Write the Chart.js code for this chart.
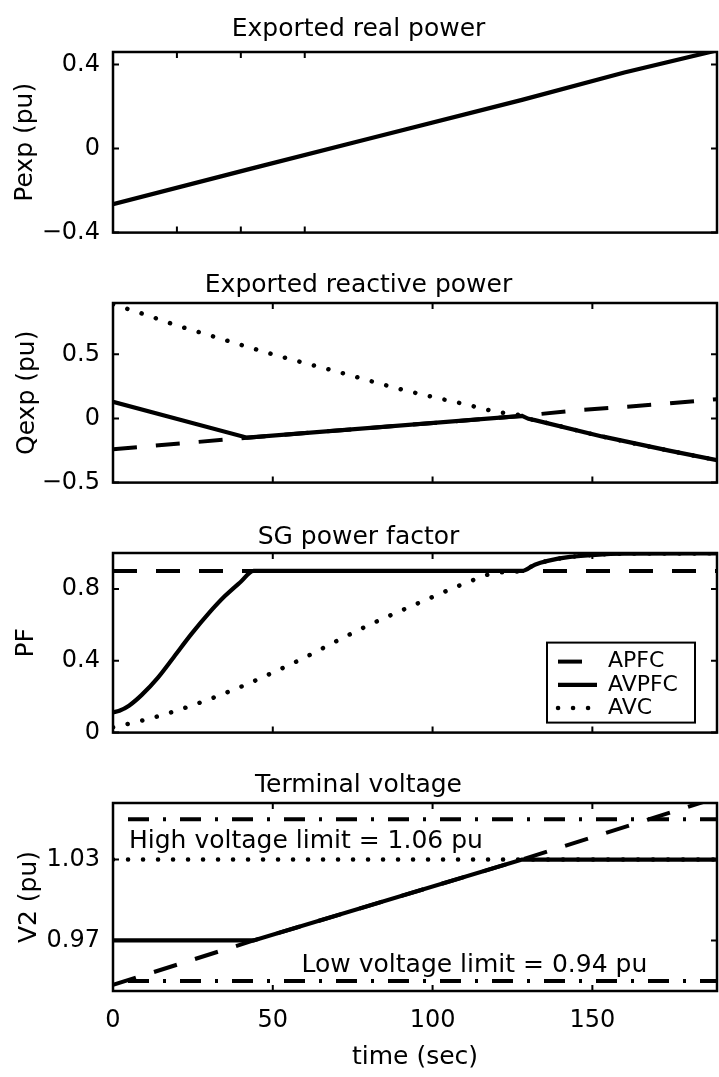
<!DOCTYPE html>
<html>
<head>
<meta charset="utf-8">
<title>Controller comparison</title>
<script src="https://cdn.jsdelivr.net/npm/chart.js@4.4.1/dist/chart.umd.min.js"></script>
<style>
  html, body { margin: 0; padding: 0; background: #fff; }
  body { width: 719px; height: 1077px; position: relative; overflow: hidden; }
  .panel { position: absolute; left: 0; width: 719px; }
</style>
</head>
<body>
<div class="panel" style="top:0;height:260px"><canvas id="pexpChart"></canvas></div>
<div class="panel" style="top:260px;height:250px"><canvas id="qexpChart"></canvas></div>
<div class="panel" style="top:510px;height:250px"><canvas id="pfChart"></canvas></div>
<div class="panel" style="top:760px;height:317px"><canvas id="voltChart"></canvas></div>
<script>
// series names / ticks
const seriesNames = ['APFC', 'AVPFC', 'AVC'];
const xTicksFine = [0, 20, 40, 60, 80, 100, 120, 140, 160, 180];
const xTicks = [0, 50, 100, 150];
const xTickLabels = ['0', '50', '100', '150'];

// Exported real power
const pexpTicks = [-0.4, 0, 0.4];
const pexpTickLabels = ['\u22120.4', '0', '0.4'];
const pexpTime = [0, 42, 80, 128, 160, 189];
const pexpValues = [-0.265, -0.1, 0.047, 0.232, 0.362, 0.468];

// Exported reactive power
const qexpTicks = [-0.5, 0, 0.5];
const qexpTickLabels = ['\u22120.5', '0', '0.5'];
const qTimeApfc = [0, 42, 128, 145, 158, 172, 189];
const qApfc = [-0.24, -0.15, 0.02, 0.064, 0.086, 0.113, 0.15];
const qTimeAvpfc = [0, 42, 128, 130, 132, 153, 174, 189];
const qAvpfc = [0.13, -0.15, 0.02, -0.003, -0.013, -0.14, -0.251, -0.325];
const qTimeAvc = [0, 10, 20, 30, 40, 50, 60, 70, 80, 90, 100, 110, 120, 128, 130, 132, 153, 174, 189];
const qAvc = [0.89, 0.81, 0.725, 0.65, 0.574, 0.5, 0.432, 0.366, 0.296, 0.228, 0.168, 0.112, 0.052, 0.02, -0.003, -0.013, -0.14, -0.251, -0.325];

// SG power factor
const pfTicks = [0, 0.4, 0.8];
const pfTickLabels = ['0', '0.4', '0.8'];
const pfTimeApfc = [0, 189];
const pfApfc = [0.9, 0.9];
const pfTimeAvpfc = [0, 2, 5, 9, 14, 19, 24.5, 30, 35, 40, 44, 128, 132, 136, 143, 151, 160, 189];
const pfAvpfc = [0.113, 0.122, 0.15, 0.21, 0.305, 0.42, 0.548, 0.665, 0.76, 0.84, 0.9, 0.9, 0.935, 0.956, 0.978, 0.99, 0.996, 0.998];
const pfTimeAvc = [0, 10, 20, 30, 40, 50, 60, 70, 80, 90, 100, 110, 120, 128, 132, 136, 143, 151, 160, 189];
const pfAvc = [0.03, 0.071, 0.123, 0.185, 0.255, 0.334, 0.418, 0.51, 0.598, 0.678, 0.755, 0.83, 0.89, 0.9, 0.935, 0.956, 0.978, 0.99, 0.996, 0.998];

// Terminal voltage
const vTicks = [0.97, 1.03];
const vTickLabels = ['0.97', '1.03'];
const vTimeApfc = [0, 44, 128, 189];
const vApfc = [0.937, 0.97, 1.03, 1.076];
const vTimeAvpfc = [0, 44, 128, 189];
const vAvpfc = [0.97, 0.97, 1.03, 1.03];
const vTimeAvc = [0, 189];
const vAvc = [1.03, 1.03];
const vLimitTime = [0, 189];
const vHighLimit = [1.06, 1.06];
const vLowLimit = [0.94, 0.94];
const limitLabels = ['High voltage limit = 1.06 pu', 'Low voltage limit = 0.94 pu'];

const FONT = '"DejaVu Sans", sans-serif';
Chart.defaults.font.family = FONT;
Chart.defaults.color = '#000';

const toPoints = (xs, ys) => xs.map((x, i) => ({ x: x, y: ys[i] }));

function styled(name, xs, ys, smooth) {
  const ds = { label: name, data: toPoints(xs, ys), borderColor: '#000', pointRadius: 0, fill: false };
  if (smooth) ds.cubicInterpolationMode = 'monotone';
  if (name === 'APFC') {
    Object.assign(ds, { borderWidth: 4, borderDash: [24, 19], order: 1 });
  } else if (name === 'AVPFC') {
    Object.assign(ds, { borderWidth: 4.2, order: 0 });
  } else if (name === 'AVC') {
    Object.assign(ds, { borderWidth: 4.5, borderDash: [0.1, 14.9], borderCapStyle: 'round', order: 2 });
  } else {
    // voltage limits, dash-dot
    Object.assign(ds, { borderWidth: 4, borderDash: [21, 14, 3, 14], borderDashOffset: 37, order: 3 });
  }
  return ds;
}

// MATLAB-like box with inward ticks on all four sides
const boxPlugin = {
  id: 'matlabBox',
  afterDatasetsDraw(chart) {
    const { ctx, chartArea: a, scales: { x, y } } = chart;
    ctx.save();
    ctx.strokeStyle = '#000';
    ctx.setLineDash([]);
    ctx.lineWidth = 2.5;
    ctx.strokeRect(a.left, a.top, a.right - a.left, a.bottom - a.top);
    ctx.lineWidth = 2;
    ctx.beginPath();
    x.ticks.forEach(t => {
      const px = x.getPixelForValue(t.value);
      ctx.moveTo(px, a.bottom); ctx.lineTo(px, a.bottom - 6);
      ctx.moveTo(px, a.top); ctx.lineTo(px, a.top + 6);
    });
    y.ticks.forEach(t => {
      const py = y.getPixelForValue(t.value);
      ctx.moveTo(a.left, py); ctx.lineTo(a.left + 6, py);
      ctx.moveTo(a.right, py); ctx.lineTo(a.right - 6, py);
    });
    ctx.stroke();
    ctx.restore();
  }
};

const legendBoxPlugin = {
  id: 'legendBox',
  afterDraw(chart) {
    const { ctx, chartArea: a } = chart;
    const w = 148, h = 80;
    const left = a.right - 22 - w, top = a.bottom - 10 - h;
    ctx.save();
    ctx.fillStyle = '#fff';
    ctx.fillRect(left, top, w, h);
    ctx.strokeStyle = '#000';
    ctx.lineWidth = 2;
    ctx.strokeRect(left, top, w, h);
    seriesNames.forEach((name, i) => {
      const ds = chart.data.datasets.find(d => d.label === name);
      const yy = top + 19 + i * 23.25;
      ctx.setLineDash(ds.borderDash || []);
      ctx.lineCap = ds.borderCapStyle || 'butt';
      ctx.lineWidth = ds.borderWidth;
      ctx.beginPath();
      ctx.moveTo(left + 11, yy);
      ctx.lineTo(left + 50, yy);
      ctx.stroke();
      ctx.setLineDash([]);
      ctx.fillStyle = '#000';
      ctx.font = '22px ' + FONT;
      ctx.textBaseline = 'middle';
      ctx.textAlign = 'left';
      ctx.fillText(name, left + 61, yy);
    });
    ctx.restore();
  }
};

const limitTextPlugin = {
  id: 'limitText',
  afterDatasetsDraw(chart) {
    const { ctx, scales: { x, y } } = chart;
    ctx.save();
    ctx.fillStyle = '#000';
    ctx.font = '25px ' + FONT;
    ctx.textBaseline = 'alphabetic';
    ctx.textAlign = 'left';
    ctx.fillText(limitLabels[0], x.getPixelForValue(5), y.getPixelForValue(1.0384));
    ctx.fillText(limitLabels[1], x.getPixelForValue(59), y.getPixelForValue(0.9468));
    ctx.restore();
  }
};

function makeChart(id, cfg) {
  return new Chart(document.getElementById(id), {
    type: 'line',
    data: { datasets: cfg.datasets },
    options: {
      responsive: true,
      maintainAspectRatio: false,
      animation: false,
      events: [],
      layout: { padding: { left: 0, right: 2, top: 0, bottom: cfg.padBottom } },
      plugins: {
        legend: { display: false },
        tooltip: { enabled: false },
        title: {
          display: true,
          text: cfg.title,
          color: '#000',
          font: { size: 25, weight: 'normal', family: FONT },
          padding: { top: cfg.titleTop, bottom: cfg.titleBottom }
        }
      },
      scales: {
        x: {
          type: 'linear',
          min: 0,
          max: 189,
          afterBuildTicks: s => { s.ticks = cfg.xTicks.map(v => ({ value: v })); },
          afterFit: s => { s.height = cfg.xHeight; },
          grid: { display: false, drawTicks: false },
          border: { display: false },
          ticks: {
            display: cfg.xLabels,
            padding: 15,
            font: { size: 24 },
            maxRotation: 0,
            autoSkip: false,
            callback: (v, i) => xTickLabels[i]
          },
          title: {
            display: cfg.xLabels,
            text: 'time (sec)',
            font: { size: 25 },
            padding: { top: 0, bottom: 5 }
          }
        },
        y: {
          type: 'linear',
          min: cfg.yMin,
          max: cfg.yMax,
          afterBuildTicks: s => { s.ticks = cfg.yTicks.map(v => ({ value: v })); },
          afterFit: s => { s.width = 113; },
          grid: { display: false, drawTicks: false },
          border: { display: false },
          ticks: {
            padding: 13,
            font: { size: 24 },
            autoSkip: false,
            callback: (v, i) => cfg.yTickLabels[i]
          },
          title: {
            display: true,
            text: cfg.yTitle,
            font: { size: 25 },
            padding: { top: cfg.yTitlePad, bottom: 0 }
          }
        }
      }
    },
    plugins: [boxPlugin].concat(cfg.extraPlugins || [])
  });
}

makeChart('pexpChart', {
  title: 'Exported real power',
  titleTop: 14, titleBottom: 8, padBottom: 20, xHeight: 0, xLabels: false,
  xTicks: xTicksFine,
  yMin: -0.4, yMax: 0.46, yTicks: pexpTicks, yTickLabels: pexpTickLabels,
  yTitle: 'Pexp (pu)', yTitlePad: 10,
  datasets: [styled('AVPFC', pexpTime, pexpValues)]
});

makeChart('qexpChart', {
  title: 'Exported reactive power',
  titleTop: 10, titleBottom: 3, padBottom: 20, xHeight: 0, xLabels: false,
  xTicks: xTicks,
  yMin: -0.5, yMax: 0.9, yTicks: qexpTicks, yTickLabels: qexpTickLabels,
  yTitle: 'Qexp (pu)', yTitlePad: 12,
  datasets: [
    styled('APFC', qTimeApfc, qApfc),
    styled('AVPFC', qTimeAvpfc, qAvpfc),
    styled('AVC', qTimeAvc, qAvc, true)
  ]
});

makeChart('pfChart', {
  title: 'SG power factor',
  titleTop: 12, titleBottom: 1, padBottom: 18, xHeight: 0, xLabels: false,
  xTicks: xTicks,
  yMin: 0, yMax: 1.0, yTicks: pfTicks, yTickLabels: pfTickLabels,
  yTitle: 'PF', yTitlePad: 11,
  datasets: [
    styled('APFC', pfTimeApfc, pfApfc),
    styled('AVPFC', pfTimeAvpfc, pfAvpfc, true),
    styled('AVC', pfTimeAvc, pfAvc, true)
  ],
  extraPlugins: [legendBoxPlugin]
});

makeChart('voltChart', {
  title: 'Terminal voltage',
  titleTop: 10, titleBottom: 3, padBottom: 0, xHeight: 86, xLabels: true,
  xTicks: xTicks,
  yMin: 0.9325, yMax: 1.072, yTicks: vTicks, yTickLabels: vTickLabels,
  yTitle: 'V2 (pu)', yTitlePad: 14,
  datasets: [
    styled('APFC', vTimeApfc, vApfc),
    styled('AVPFC', vTimeAvpfc, vAvpfc),
    styled('AVC', vTimeAvc, vAvc),
    styled('High limit', vLimitTime, vHighLimit),
    styled('Low limit', vLimitTime, vLowLimit)
  ],
  extraPlugins: [limitTextPlugin]
});
</script>
</body>
</html>
